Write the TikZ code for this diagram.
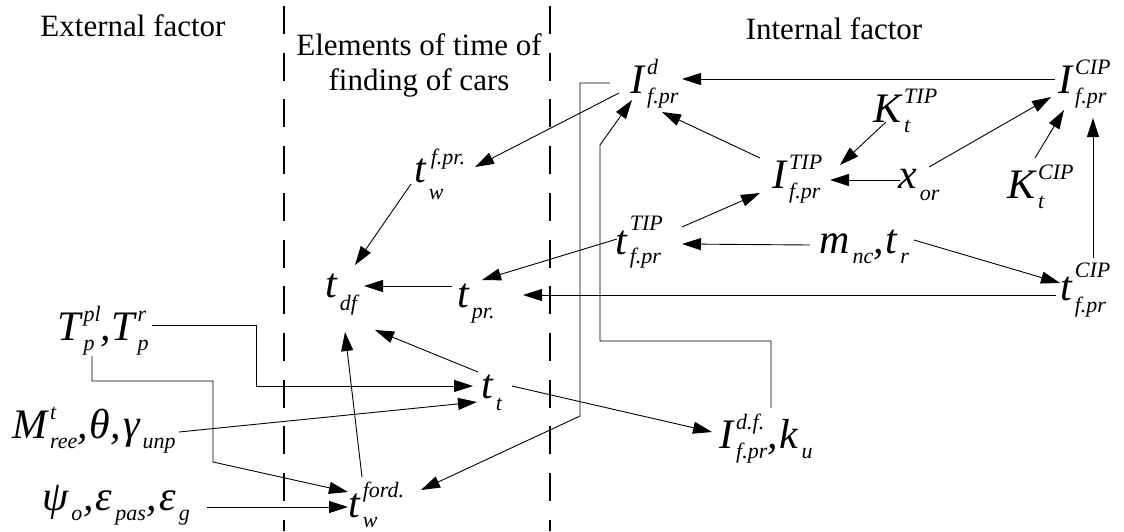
\documentclass[tikz,border=0pt]{standalone}
\usepackage{fontspec}
\setmainfont{Liberation Serif}
\usetikzlibrary{arrows.meta}
\newcommand\bigf{\fontsize{42}{42}\selectfont\itshape}
\newcommand\smf{\fontsize{22}{22}\selectfont\itshape}
\newcommand\txtf{\fontsize{31}{35}\selectfont}
\newlength\lwa \newlength\lwb
\newcommand\Lblx[5]{{\bigf #3}\kern3pt{\smf\settowidth\lwa{#4}\settowidth\lwb{#5}%
  \rlap{\raisebox{#1}{#4}}\raisebox{-#2}{#5}%
  \ifdim\lwa>\lwb\hspace{\dimexpr\lwa-\lwb\relax}\fi}}
\newcommand\Lbl[3]{\Lblx{19pt}{10pt}{#1}{#2}{#3}}
\newcommand\cma{{\bigf ,}\kern2pt}
\begin{document}
\begin{tikzpicture}[x=1pt,y=-1pt,
  lab/.style={inner sep=0pt, anchor=base west},
  ttl/.style={inner sep=0pt, anchor=base, font=\txtf},
  arr/.style={-{Triangle[length=19pt,width=12pt]}, line width=0.9pt},
  divider/.style={dash pattern=on 28pt off 18.7pt, line width=1.8pt}]
\useasboundingbox (0,0) rectangle (1124,531);
% titles
\node[ttl] (ext) at (133,36) {External factor};
\node[ttl] (el1) at (419,55) {Elements of time of};
\node[ttl] (el2) at (419,90) {finding of cars};
\node[ttl] (int) at (834,39) {Internal factor};
% dividers
\coordinate (d1t) at (284,6); \coordinate (d1b) at (284,531);
\coordinate (d2t) at (550,6); \coordinate (d2b) at (550,531);
\draw[divider] (d1t) -- (d1b);
\draw[divider] (d2t) -- (d2b);
% labels
\node[lab] (Id) at (630,93) {\Lbl{I}{d}{f.pr}};
\node[lab] (Icip) at (1058,93) {\Lbl{I}{CIP}{f.pr}};
\node[lab] (Ktip) at (873,122) {\Lbl{K}{TIP}{t}};
\node[lab] (Itip) at (772,188) {\Lbl{I}{TIP}{f.pr}};
\node[lab] (xor) at (898,188) {\Lblx{19pt}{12pt}{x}{}{or}};
\node[lab] (Kcip) at (1007,198) {\Lbl{K}{CIP}{t}};
\node[lab] (ttip) at (615,254) {\Lblx{24pt}{9pt}{t}{TIP}{f.pr}};
\node[lab] (mnc) at (819,253) {\Lbl{m}{}{nc}\cma\Lbl{t}{}{r}};
\node[lab] (tcip) at (1060,300) {\Lblx{23pt}{12pt}{t}{CIP}{f.pr}};
\node[lab] (twf) at (414,182) {\Lblx{18pt}{17pt}{t}{\kern2pt f.pr.}{w}};
\node[lab] (tdf) at (325,297) {\Lblx{19pt}{13pt}{t}{}{df}};
\node[lab] (tpr) at (457,307) {\Lblx{19pt}{11pt}{t}{}{pr.}};
\node[lab] (Tp) at (57,340) {\Lbl{T}{pl}{p}{\bigf ,}\Lbl{T}{r}{p}};
\node[lab] (tt) at (481,398) {\Lblx{19pt}{12pt}{t}{}{t}};
\node[lab] (Mree) at (12,438) {\Lbl{M}{t}{ree}\cma{\bigf θ}\cma\Lbl{γ}{}{unp}};
\node[lab] (Idf) at (719,448) {\Lbl{I}{d.f.}{f.pr}\cma\Lbl{k}{}{u}};
\node[lab] (psi) at (42,510) {\Lbl{ψ}{}{o}\kern1pt\cma\Lbl{ε}{}{pas}\kern1pt\cma\Lbl{ε}{}{g}};
\node[lab] (twford) at (348,517) {\Lblx{20pt}{10pt}{t}{ford.}{w}};
% connectors
\draw[arr] ([shift={(-11,0)}]Id.base west) -- ([shift={(61,-15)}]twf.base west);
\draw[arr] ([shift={(-20,-10)}]Id.base west) -- ++(-30,0) -- ++(0,333) -- ([shift={(73,-27)}]twford.base west);
\draw[arr] ([shift={(52,-40)}]Idf.base west) -- ++(0,-67) -- ++(-171,0) -- ++(0,-196) -- ([shift={(2,7)}]Id.base west);
\draw[arr] ([shift={(-3,-14)}]Icip.base west) -- ([shift={(52,-14)}]Id.base west);
\draw[arr] ([shift={(-12,-30)}]Itip.base west) -- ([shift={(32,19)}]Id.base west);
\draw[arr] ([shift={(13,0)}]Ktip.base west) -- ([shift={(68,-23)}]Itip.base west);
\draw[arr] ([shift={(2,-8)}]xor.base west) -- ([shift={(58,-8)}]Itip.base west);
\draw[arr] ([shift={(31,-21)}]xor.base west) -- ([shift={(-7,4)}]Icip.base west);
\draw[arr] ([shift={(28,-40)}]Kcip.base west) -- ([shift={(6,17)}]Icip.base west);
\draw[arr] ([shift={(33,-42)}]tcip.base west) -- ([shift={(35,25)}]Icip.base west);
\draw[arr] ([shift={(67,-27)}]ttip.base west) -- ([shift={(-12,5)}]Itip.base west);
\draw[arr] ([shift={(-9,-8)}]mnc.base west) -- ([shift={(67,-10)}]ttip.base west);
\draw[arr] ([shift={(95,-13)}]mnc.base west) -- ([shift={(0,-17)}]tcip.base west);
\draw[arr] ([shift={(-4,-5)}]tcip.base west) -- ([shift={(66,-12)}]tpr.base west);
\draw[arr] ([shift={(2,-15)}]ttip.base west) -- ([shift={(25,-27)}]tpr.base west);
\draw[arr] ([shift={(-5,-21)}]tpr.base west) -- ([shift={(39,-11)}]tdf.base west);
\draw[arr] ([shift={(-3,2)}]twf.base west) -- ([shift={(30,-32)}]tdf.base west);
\draw[arr] ([shift={(-3,-26)}]tt.base west) -- ([shift={(50,33)}]tdf.base west);
\draw[arr] ([shift={(14,-40)}]twford.base west) -- ([shift={(20,35)}]tdf.base west);
\draw[arr] ([shift={(95,-15)}]Tp.base west) -- ++(104,0) |- ([shift={(-8,-12)}]tt.base west);
\draw[arr] ([shift={(35,16)}]Tp.base west) -- ++(0,25) -- ++(121,0) -- ++(0,81) -- ([shift={(0,-25)}]twford.base west);
\draw[arr] ([shift={(167,-6)}]Mree.base west) -- ([shift={(-4,4)}]tt.base west);
\draw[arr] ([shift={(165,-3)}]psi.base west) -- ([shift={(0,-10)}]twford.base west);
\draw[arr] ([shift={(31,-12)}]tt.base west) -- ([shift={(-7,-16)}]Idf.base west);
\end{tikzpicture}
\end{document}
